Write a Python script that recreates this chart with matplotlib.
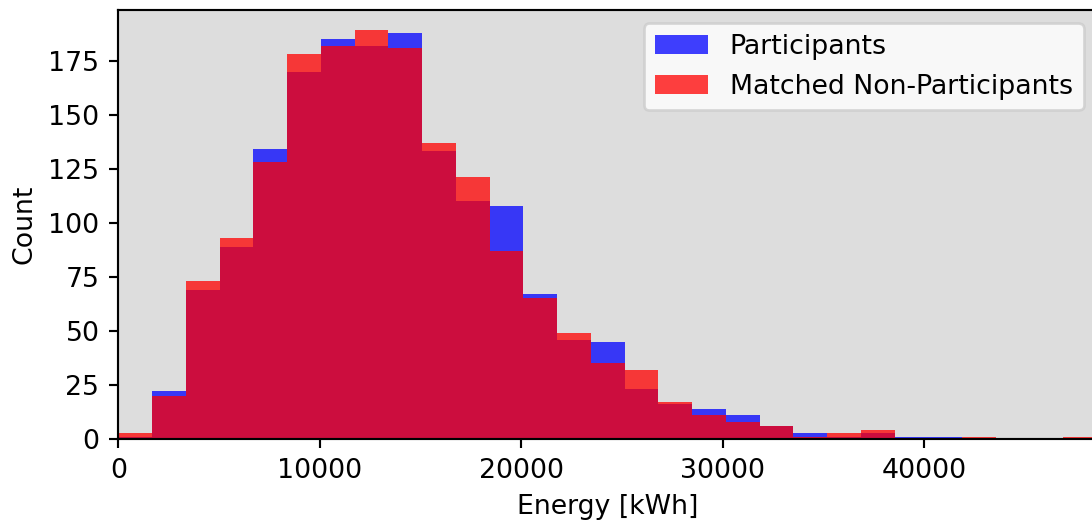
import numpy as np
import matplotlib
matplotlib.use("Agg")
import matplotlib.pyplot as plt

# histogram bins (kWh)
bin_width = 1675
n_bins = 29
edges = np.arange(n_bins + 1) * bin_width

# counts per bin
participants = [1, 22, 69, 89, 134, 170, 185, 182, 188, 133, 110, 108, 67, 46, 45,
                23, 16, 14, 11, 6, 3, 1, 3, 1, 1, 0, 0, 0, 0]
non_participants = [3, 20, 73, 93, 128, 178, 182, 189, 181, 137, 121, 87, 65, 49, 35,
                    32, 17, 11, 8, 6, 1, 3, 4, 0, 0, 1, 0, 0, 1]

dpi = 193
fig = plt.figure(figsize=(1092 / dpi, 527 / dpi), dpi=dpi)
ax = fig.add_axes([0.1083, 0.167, 0.8962, 0.814])
ax.set_facecolor("#dddddd")

ax.hist(edges[:-1], bins=edges, weights=participants, color="blue", alpha=0.75,
        label="Participants")
ax.hist(edges[:-1], bins=edges, weights=non_participants, color="red", alpha=0.75,
        label="Matched Non-Participants")

ax.set_xlim(0, 48570)
ax.set_xlabel("Energy [kWh]")
ax.set_ylabel("Count")
ax.legend(loc="upper right")

fig.savefig("out.png", dpi=dpi)
